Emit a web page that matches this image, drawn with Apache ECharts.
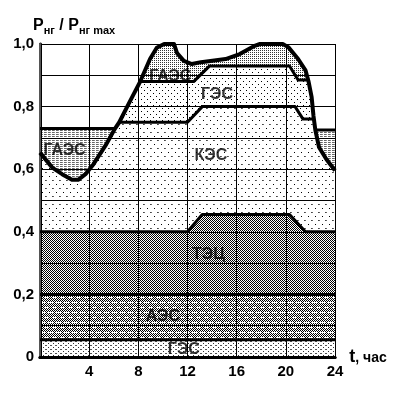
<!DOCTYPE html>
<html><head><meta charset="utf-8">
<script src="https://cdn.jsdelivr.net/npm/echarts@6/dist/echarts.min.js"></script>
<style>html,body{margin:0;padding:0;background:#fff}#c{width:399px;height:395px}</style>
</head><body><div id="c"></div>
<script>
// ---- data ----
const yTickLabels = {0:'0', 2:'0,2', 4:'0,4', 6:'0,6', 8:'0,8', 10:'1,0'};
const loadCurve = [[0,0.653],[1.0,0.605],[1.8,0.584],[2.6,0.566],[3.1,0.566],[3.7,0.584],[4.35,0.616],[5.4,0.68],[6.1,0.73],[6.45,0.75],[7.2,0.808],[8.15,0.88],[8.95,0.952],[9.5,0.988],[10.1,1.0],[10.9,1.0],[11.15,0.971],[11.7,0.946],[12.35,0.936],[13.1,0.942],[15.1,0.952],[16.25,0.968],[17.4,0.993],[17.9,1.0],[19.75,1.0],[20.2,0.99],[21.0,0.952],[21.6,0.916],[21.85,0.88],[22.1,0.83],[22.25,0.77],[22.4,0.725],[22.7,0.67],[23.3,0.632],[24,0.596]];
const pumpLeft = [[0,0.73],[6.1,0.73]];
const pumpRight = [[22.4,0.725],[24,0.725]];
const gesTop = [[8.15,0.88],[12.5,0.88],[13.8,0.93],[20.3,0.93],[21.0,0.885],[21.85,0.885]];
const kesTop = [[6.45,0.75],[12.0,0.75],[13.2,0.8],[20.75,0.8],[21.4,0.76],[22.3,0.76]];
const tecTop = [[0,0.4],[12.0,0.4],[13.2,0.455],[20.3,0.455],[21.6,0.4],[24,0.4]];
const aesTop = [[0,0.2],[24,0.2]];
const gesBaseTop = [[0,0.055],[24,0.055]];
const labels = [[10.6,0.895,'ГАЭС'],[14.4,0.838,'ГЭС'],[13.9,0.644,'КЭС'],[13.7,0.328,'ТЭЦ'],[10.0,0.13,'АЭС'],[11.7,0.024,'ГЭС'],[2.0,0.66,'ГАЭС']];

// ---- composite region tops (built from the arrays above) ----
const gesFill = loadCurve.filter(p => p[0] < gesTop[0][0]).concat(gesTop, loadCurve.filter(p => p[0] > gesTop[gesTop.length-1][0]));
const kesFill = loadCurve.filter(p => p[0] < kesTop[0][0]).concat(kesTop, loadCurve.filter(p => p[0] > kesTop[kesTop.length-1][0]));

// ---- patterns ----
function pat(w, h, bg, px) {
  const c = document.createElement('canvas'); c.width = w; c.height = h;
  const g = c.getContext('2d'); g.fillStyle = bg; g.fillRect(0, 0, w, h);
  px.forEach(([x, y, col]) => { g.fillStyle = col || '#000'; g.fillRect(x, y, 1, 1); });
  return { image: c, repeat: 'repeat' };
}
function checker(w, h, skip) {
  const a = [];
  for (let y = 0; y < h; y++) for (let x = 0; x < w; x++) if ((x + y) % 2 === 0 && !skip(x, y)) a.push([x, y, '#000']);
  return a;
}
const P = {
  tec: pat(2, 2, '#fff', [[0,0,'#000'],[1,1,'#000']]),
  aes: pat(8, 10, '#fff', checker(8, 10, (x, y) => (y === 2 && x < 5) || (y === 7 && (x >= 4 || x === 0)))),
  gesBase: pat(5, 4, '#fff', [[0,1,'#555'],[1,1,'#555'],[3,3,'#333']]),
  kes: pat(7, 8, '#fff', [[0,0,'#000'],[3,4,'#444'],[4,4,'#666']]),
  ges: pat(6, 6, '#fff', [[0,0,'#000'],[3,3,'#000']]),
  gaes: pat(2, 2, '#fff', [[0,0,'#333']]),
  pump: pat(4, 2, '#fff', [[0,0,'#666'],[1,0,'#666'],[2,0,'#888']])
};

const FF = 'Liberation Sans, Arial, sans-serif';
function fill(data, color, z) {
  return { type: 'line', data, z, symbol: 'none', silent: true, animation: false,
    lineStyle: { width: 0, opacity: 0 }, areaStyle: { color, opacity: 1, origin: 'start' } };
}
function edge(data, w, z) {
  return { type: 'line', data, z, symbol: 'none', silent: true, animation: false,
    lineStyle: { color: '#000', width: w, cap: 'butt', join: 'round' } };
}

const chart = echarts.init(document.getElementById('c'), null, { renderer: 'canvas' });
chart.setOption({
  backgroundColor: '#fff',
  animation: false,
  title: {
    left: 28, top: 11,
    text: '{p|P}{s|нг}{p| / P}{s|нг max}',
    textStyle: { rich: {
      p: { fontSize: 16, fontWeight: 'bold', color: '#000', fontFamily: FF },
      s: { fontSize: 11, fontWeight: 'bold', color: '#000', fontFamily: FF, padding: [9, 0, 0, 0] }
    } }
  },
  grid: { left: 40, right: 64, top: 44, bottom: 38, outerBoundsMode: 'none', containLabel: false },
  xAxis: [{
    type: 'value', min: 0, max: 24, interval: 4, z: 20,
    axisLine: { show: true, onZero: false, lineStyle: { color: '#000', width: 3 } },
    axisTick: { show: false },
    splitLine: { show: true, lineStyle: { color: '#000', width: 1 } },
    axisLabel: { formatter: v => v === 0 ? '' : String(v), color: '#000', fontSize: 15, fontWeight: 'bold', fontFamily: FF, margin: 7 },
    name: '{a|t}{b|, час}', nameLocation: 'end', nameGap: 9,
    nameTextStyle: { rich: {
      a: { fontSize: 18, fontWeight: 'bold', color: '#000', fontFamily: FF },
      b: { fontSize: 14, fontWeight: 'bold', color: '#000', fontFamily: FF, padding: [3, 0, 0, 0] }
    } }
  }, {
    type: 'value', position: 'top', min: 0, max: 24, z: 20,
    axisLine: { show: true, lineStyle: { color: '#000', width: 3 } },
    axisTick: { show: false }, axisLabel: { show: false }, splitLine: { show: false }
  }],
  yAxis: [{
    type: 'value', min: 0, max: 1, interval: 0.1, z: 20,
    axisLine: { show: true, onZero: false, lineStyle: { color: '#000', width: 3 } },
    axisTick: { show: false },
    splitLine: { show: true, lineStyle: { color: '#000', width: 1 } },
    axisLabel: { formatter: v => { const k = Math.round(v * 10); return yTickLabels[k] !== undefined ? yTickLabels[k] : ''; },
      color: '#000', fontSize: 15, fontWeight: 'bold', fontFamily: FF, margin: 6 }
  }, {
    type: 'value', position: 'right', min: 0, max: 1, z: 20,
    axisLine: { show: true, lineStyle: { color: '#555', width: 2 } },
    axisTick: { show: false }, axisLabel: { show: false }, splitLine: { show: false }
  }],
  series: [
    fill(pumpLeft, P.pump, 1),
    fill(pumpRight, P.pump, 1),
    fill(loadCurve, P.gaes, 2),
    fill(gesFill, P.ges, 3),
    fill(kesFill, P.kes, 4),
    fill(tecTop, P.tec, 5),
    fill(aesTop, P.aes, 6),
    fill(gesBaseTop, P.gesBase, 7),
    edge(pumpLeft, 3, 21),
    edge(pumpRight, 3, 21),
    edge(gesTop, 3, 21),
    edge(kesTop, 3, 21),
    edge(tecTop, 3, 21),
    edge(aesTop, 3, 21),
    edge(gesBaseTop, 3, 21),
    edge(loadCurve, 4, 22),
    {
      type: 'scatter', z: 30, symbolSize: 1, silent: true, animation: false,
      itemStyle: { color: 'rgba(0,0,0,0)' },
      data: labels.map(l => ({ value: [l[0], l[1]], name: l[2] })),
      label: { show: true, position: 'inside', formatter: p => p.name, fontSize: 16, fontWeight: 'bold', color: '#000', fontFamily: FF }
    }
  ]
});
</script>
</body></html>
